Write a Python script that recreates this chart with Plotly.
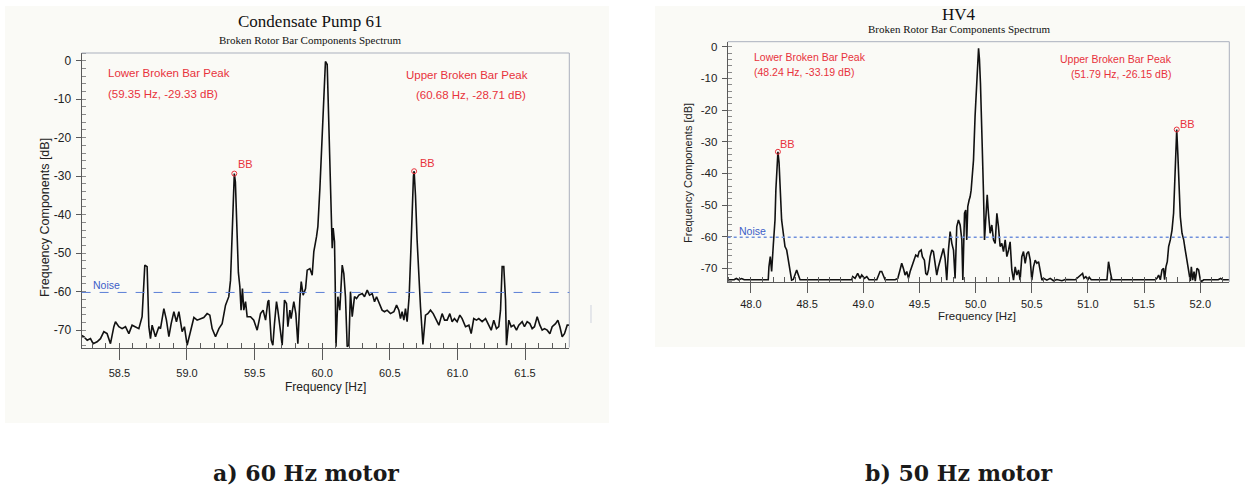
import plotly.graph_objects as go

# ---------------- DATA ----------------
# a) 60 Hz motor spectrum (frequency in Hz, amplitude in dB)
LEFT_FREQ = [
    58.217, 58.237, 58.262, 58.286, 58.306, 58.335, 58.360, 58.385, 58.409, 58.434,
    58.459, 58.471, 58.496, 58.520, 58.545, 58.570, 58.594, 58.619, 58.644, 58.668,
    58.688, 58.705, 58.718, 58.730, 58.742, 58.767, 58.792, 58.804, 58.829, 58.848,
    58.866, 58.883, 58.903, 58.922, 58.940, 58.964, 58.981, 59.001, 59.026, 59.051,
    59.075, 59.100, 59.124, 59.149, 59.169, 59.186, 59.211, 59.236, 59.260, 59.285,
    59.309, 59.322, 59.334, 59.343, 59.350, 59.358, 59.366, 59.373, 59.380, 59.391,
    59.400, 59.410, 59.420, 59.433, 59.445, 59.470, 59.494, 59.519, 59.544, 59.563,
    59.581, 59.598, 59.605, 59.623, 59.635, 59.647, 59.662, 59.672, 59.692, 59.704,
    59.721, 59.736, 59.746, 59.761, 59.770, 59.790, 59.805, 59.820, 59.835, 59.845,
    59.859, 59.877, 59.889, 59.909, 59.926, 59.938, 59.958, 59.968, 59.983, 59.999,
    60.012, 60.024, 60.037, 60.049, 60.062, 60.068, 60.074, 60.081, 60.091, 60.096,
    60.102, 60.116, 60.130, 60.148, 60.160, 60.172, 60.185, 60.197, 60.209, 60.222,
    60.239, 60.254, 60.271, 60.296, 60.313, 60.333, 60.350, 60.370, 60.387, 60.402,
    60.419, 60.443, 60.461, 60.480, 60.505, 60.530, 60.550, 60.567, 60.579, 60.591,
    60.604, 60.616, 60.628, 60.643, 60.655, 60.665, 60.675, 60.680, 60.690, 60.702,
    60.715, 60.727, 60.745, 60.764, 60.781, 60.801, 60.821, 60.838, 60.863, 60.887,
    60.905, 60.924, 60.944, 60.961, 60.978, 60.998, 61.018, 61.035, 61.060, 61.085,
    61.102, 61.121, 61.141, 61.158, 61.183, 61.208, 61.232, 61.250, 61.269, 61.289,
    61.306, 61.319, 61.331, 61.343, 61.356, 61.363, 61.380, 61.398, 61.417, 61.437,
    61.454, 61.479, 61.496, 61.516, 61.536, 61.553, 61.570, 61.590, 61.610, 61.627,
    61.644, 61.664, 61.684, 61.701, 61.726, 61.743, 61.758, 61.775, 61.792, 61.812,
    61.827,
]
LEFT_DB = [
    -71.3, -71.7, -72.6, -72.2, -73.5, -73.0, -72.2, -70.4, -70.9, -73.5,
    -69.1, -67.8, -69.1, -69.6, -69.1, -70.9, -68.7, -69.1, -69.6, -66.5,
    -53.1, -53.5, -69.1, -72.2, -68.7, -71.7, -69.1, -69.6, -64.4, -67.4,
    -71.7, -68.3, -65.2, -67.8, -65.2, -70.4, -69.1, -73.9, -70.0, -66.7,
    -67.4, -67.0, -66.7, -65.7, -66.1, -69.6, -71.7, -69.6, -68.3, -63.5,
    -61.3, -57.0, -44.0, -33.0, -29.33, -31.5, -42.0, -50.0, -55.0, -58.7,
    -64.8, -59.2, -64.8, -62.6, -66.5, -66.5, -67.4, -70.0, -65.7, -64.8,
    -67.4, -62.6, -62.2, -72.6, -73.9, -68.3, -62.6, -64.8, -70.9, -73.9,
    -62.2, -63.1, -69.1, -64.8, -67.0, -62.6, -65.7, -73.5, -61.8, -57.4,
    -60.9, -59.2, -54.4, -54.0, -55.7, -49.6, -45.7, -43.1, -33.1, -20.1,
    -9.7, -0.2, -1.0, -17.5, -35.7, -39.2, -48.7, -43.5, -47.0, -57.4,
    -74.3, -61.3, -64.8, -53.1, -55.3, -61.3, -74.3, -73.9, -60.0, -66.5,
    -61.3, -61.8, -60.9, -60.5, -61.3, -59.6, -60.9, -60.5, -62.6, -61.3,
    -62.6, -64.8, -65.2, -64.8, -65.7, -65.2, -63.5, -64.8, -67.0, -65.2,
    -67.4, -64.4, -67.8, -61.3, -50.0, -38.0, -30.0, -28.71, -35.0, -46.6,
    -57.0, -63.9, -73.7, -66.1, -65.7, -64.8, -65.7, -67.0, -68.7, -65.7,
    -67.4, -67.4, -65.7, -67.8, -67.0, -67.8, -66.1, -67.0, -69.1, -68.7,
    -70.9, -67.0, -67.4, -67.0, -67.8, -67.0, -68.7, -70.0, -67.4, -69.6,
    -69.1, -64.8, -53.5, -53.5, -62.2, -73.9, -67.4, -69.1, -68.7, -70.0,
    -68.7, -67.8, -69.1, -67.8, -68.3, -69.6, -69.1, -66.5, -68.7, -70.0,
    -69.6, -70.0, -70.9, -69.1, -68.3, -67.4, -69.1, -71.7, -70.9, -68.7,
    -68.7,
]

# b) 50 Hz motor spectrum
RIGHT_FREQ = [
    47.795, 47.850, 47.870, 47.890, 47.917, 47.940, 48.154, 48.160, 48.172, 48.184,
    48.199, 48.208, 48.214, 48.222, 48.232, 48.240, 48.250, 48.258, 48.273, 48.288,
    48.303, 48.318, 48.333, 48.347, 48.362, 48.377, 48.392, 48.407, 48.422, 48.437,
    48.451, 48.897, 48.906, 48.927, 48.950, 48.971, 48.986, 49.010, 49.031, 49.051,
    49.120, 49.134, 49.149, 49.164, 49.179, 49.194, 49.283, 49.307, 49.327, 49.342,
    49.357, 49.372, 49.387, 49.402, 49.417, 49.431, 49.446, 49.467, 49.485, 49.497,
    49.515, 49.526, 49.544, 49.556, 49.568, 49.580, 49.595, 49.610, 49.624, 49.639,
    49.654, 49.669, 49.684, 49.699, 49.713, 49.728, 49.743, 49.758, 49.773, 49.788,
    49.803, 49.817, 49.832, 49.847, 49.862, 49.877, 49.886, 49.901, 49.912, 49.921,
    49.930, 49.942, 49.951, 49.960, 49.972, 49.981, 49.995, 50.008, 50.018, 50.026,
    50.034, 50.043, 50.057, 50.064, 50.070, 50.079, 50.091, 50.103, 50.114, 50.129,
    50.144, 50.159, 50.174, 50.189, 50.203, 50.218, 50.233, 50.248, 50.263, 50.278,
    50.293, 50.307, 50.322, 50.337, 50.352, 50.367, 50.382, 50.396, 50.411, 50.426,
    50.441, 50.456, 50.471, 50.486, 50.500, 50.515, 50.530, 50.545, 50.560, 50.575,
    50.590, 50.604, 50.634, 50.664, 50.693, 50.723, 50.768, 50.797, 50.887, 50.952,
    50.964, 50.981, 50.999, 51.011, 51.029, 51.169, 51.183, 51.198, 51.213, 51.599,
    51.614, 51.629, 51.644, 51.659, 51.673, 51.682, 51.694, 51.706, 51.718, 51.733,
    51.748, 51.762, 51.775, 51.785, 51.790, 51.800, 51.810, 51.822, 51.837, 51.852,
    51.866, 51.881, 51.896, 51.911, 51.920, 51.932, 51.944, 51.955, 51.970, 51.985,
    52.000, 52.012, 52.030, 52.160, 52.180, 52.200, 52.257,
]
RIGHT_DB = [
    -73.6, -73.6, -73.2, -73.6, -73.2, -73.6, -73.6, -69.5, -66.3, -71.0,
    -62.6, -58.9, -54.7, -45.0, -36.0, -33.19, -36.5, -45.0, -54.7, -58.9,
    -63.1, -64.2, -67.4, -71.0, -73.7, -73.5, -72.1, -70.5, -72.1, -73.6,
    -73.6, -73.6, -72.6, -73.15, -71.6, -73.15, -72.1, -73.15, -72.6, -73.6,
    -73.6, -72.1, -71.0, -71.0, -72.1, -73.6, -73.6, -73.15, -70.5, -68.4,
    -70.0, -72.1, -71.0, -73.15, -71.0, -69.5, -67.4, -65.8, -66.3, -64.7,
    -64.2, -66.3, -67.4, -71.6, -72.1, -70.5, -66.3, -64.2, -64.7, -68.4,
    -72.1, -69.5, -67.4, -65.3, -63.7, -66.8, -73.7, -64.2, -58.4, -62.1,
    -64.2, -73.15, -56.8, -54.7, -56.3, -61.0, -73.7, -52.6, -51.6, -61.0,
    -50.5, -48.4, -47.4, -45.3, -39.0, -35.8, -22.0, -11.6, -4.0, -0.5,
    -4.0, -11.6, -29.3, -37.0, -46.3, -61.0, -53.7, -46.8, -52.6, -58.9,
    -56.3, -61.0, -62.1, -52.6, -56.8, -63.1, -62.1, -64.7, -61.0, -66.3,
    -64.2, -61.6, -70.5, -73.7, -69.5, -72.1, -70.5, -73.7, -66.3, -64.7,
    -68.4, -65.3, -64.7, -67.4, -73.7, -69.5, -67.4, -68.4, -67.9, -71.0,
    -73.7, -73.15, -73.7, -73.15, -73.9, -73.5, -73.9, -73.5, -73.6, -71.6,
    -73.15, -72.6, -73.6, -72.8, -73.6, -73.6, -67.9, -71.0, -73.6, -73.6,
    -73.15, -72.1, -73.6, -70.5, -70.0, -73.6, -69.5, -67.9, -63.1, -61.0,
    -57.9, -52.6, -40.0, -30.0, -26.15, -34.0, -45.0, -53.7, -58.9, -61.0,
    -64.2, -67.4, -71.0, -74.0, -69.5, -73.7, -71.0, -74.0, -70.0, -70.5,
    -73.7, -74.1, -73.6, -73.6, -73.2, -73.6, -73.6,
]

NOISE_DB = -60.2

LEFT_PEAKS_F = [59.35, 60.68]
LEFT_PEAKS_DB = [-29.33, -28.71]
RIGHT_PEAKS_F = [48.24, 51.79]
RIGHT_PEAKS_DB = [-33.19, -26.15]

LEFT_XTICKS = [58.5, 59.0, 59.5, 60.0, 60.5, 61.0, 61.5]
RIGHT_XTICKS = [48.0, 48.5, 49.0, 49.5, 50.0, 50.5, 51.0, 51.5, 52.0]
YTICKS = [0, -10, -20, -30, -40, -50, -60, -70]
YTICK_TEXT = ["0", "-10", "-20", "-30", "-40", "-50", "-60", "-70"]

LEFT_TITLE = "Condensate Pump 61"
RIGHT_TITLE = "HV4"
SUBTITLE = "Broken Rotor Bar Components Spectrum"
CAPTIONS = ["a) 60 Hz motor", "b) 50 Hz motor"]

# ---------------- LAYOUT HELPERS ----------------
W, H = 1248, 492
def px(x):
    return x / W
def py(y):
    return 1 - y / H

PANEL_BG = "#fafaf6"
RED = "#e8323c"
BLUE = "#3c5ec8"
AXIS = "#5a5a5a"
FRAME = "#aab0bd"
SANS = "Liberation Sans, Arial, sans-serif"
SERIF = "Liberation Serif, Times New Roman, serif"

fig = go.Figure()

fig.add_trace(go.Scatter(x=LEFT_FREQ, y=LEFT_DB, mode="lines",
                         line=dict(color="#111111", width=1.6),
                         xaxis="x", yaxis="y", showlegend=False, hoverinfo="skip"))
fig.add_trace(go.Scatter(x=RIGHT_FREQ, y=RIGHT_DB, mode="lines",
                         line=dict(color="#111111", width=1.6),
                         xaxis="x2", yaxis="y2", showlegend=False, hoverinfo="skip"))
fig.add_trace(go.Scatter(x=LEFT_PEAKS_F, y=LEFT_PEAKS_DB, mode="markers",
                         marker=dict(symbol="circle-open", size=5, color=RED, line=dict(width=1)),
                         xaxis="x", yaxis="y", showlegend=False, hoverinfo="skip"))
fig.add_trace(go.Scatter(x=RIGHT_PEAKS_F, y=RIGHT_PEAKS_DB, mode="markers",
                         marker=dict(symbol="circle-open", size=5, color=RED, line=dict(width=1)),
                         xaxis="x2", yaxis="y2", showlegend=False, hoverinfo="skip"))

def xaxis_cfg(domain, rng, ticks, ticklen, standoff):
    return dict(
        domain=domain, range=rng, showgrid=False, zeroline=False,
        showline=True, linecolor=AXIS, linewidth=1,
        tickmode="array", tickvals=ticks, ticktext=[f"{t:.1f}" for t in ticks],
        ticks="outside", ticklen=ticklen, tickwidth=1, tickcolor=AXIS,
        ticklabelstandoff=standoff,
        tickfont=dict(family=SANS, size=11, color="#222222"),
        minor=dict(tickmode="linear", tick0=ticks[0], dtick=0.1, ticks="inside",
                   ticklen=5, tickwidth=1, tickcolor=AXIS, showgrid=False),
        fixedrange=True,
    )

def yaxis_cfg(domain, rng, size):
    return dict(
        domain=domain, range=rng, showgrid=False, zeroline=False,
        showline=True, linecolor=AXIS, linewidth=1,
        tickmode="array", tickvals=YTICKS, ticktext=YTICK_TEXT,
        ticks="outside", ticklen=5, tickwidth=1, tickcolor=AXIS,
        ticklabelstandoff=2,
        tickfont=dict(family=SANS, size=size, color="#222222"),
        minor=dict(tickmode="linear", tick0=0, dtick=2, ticks="inside",
                   ticklen=4, tickwidth=1, tickcolor="#8a8a8a", showgrid=False),
        fixedrange=True,
    )

L_DOM_X = [px(81.6), px(569.3)]
L_DOM_Y = [py(347.5), py(53.0)]
R_DOM_X = [px(727.7), px(1229.3)]
R_DOM_Y = [py(282.0), py(41.7)]

xa = xaxis_cfg(L_DOM_X, [58.2205, 61.8276], LEFT_XTICKS, 11, 4)
xa["anchor"] = "y"
ya = yaxis_cfg(L_DOM_Y, [-74.5, 2.0], 12); ya["anchor"] = "x"
xa2 = xaxis_cfg(R_DOM_X, [47.793, 52.258], RIGHT_XTICKS, 10, 2)
xa2["anchor"] = "y2"
ya2 = yaxis_cfg(R_DOM_Y, [-74.3, 1.58], 11.5); ya2["anchor"] = "x2"

shapes = [
    # panel backgrounds
    dict(type="rect", xref="paper", yref="paper", x0=px(5), x1=px(609), y0=py(423), y1=py(6),
         fillcolor=PANEL_BG, line=dict(width=0), layer="below"),
    dict(type="rect", xref="paper", yref="paper", x0=px(655), x1=px(1245), y0=py(347), y1=py(6),
         fillcolor=PANEL_BG, line=dict(width=0), layer="below"),
    # top and right frame lines
    dict(type="line", xref="x domain", yref="y domain", x0=0, x1=1, y0=1, y1=1,
         line=dict(color=FRAME, width=1)),
    dict(type="line", xref="x domain", yref="y domain", x0=1, x1=1, y0=0, y1=1,
         line=dict(color=FRAME, width=1)),
    dict(type="line", xref="x2 domain", yref="y2 domain", x0=0, x1=1, y0=1, y1=1,
         line=dict(color=FRAME, width=1)),
    dict(type="line", xref="x2 domain", yref="y2 domain", x0=1, x1=1, y0=0, y1=1,
         line=dict(color=FRAME, width=1)),
    # noise lines
    dict(type="line", xref="x domain", yref="y", x0=0, x1=1, y0=NOISE_DB, y1=NOISE_DB,
         line=dict(color="#5b7fd6", width=1, dash="dash")),
    dict(type="line", xref="x2 domain", yref="y2", x0=0, x1=1, y0=NOISE_DB, y1=NOISE_DB,
         line=dict(color="#6f8fdc", width=1.5, dash="dot")),
    # small scan artifact line at right of left panel
    dict(type="line", xref="paper", yref="paper", x0=px(591), x1=px(591), y0=py(305), y1=py(323),
         line=dict(color="#cfd3de", width=1)),
]

ann = []
def text(x, y, s, size, color="#111111", family=SANS, xanchor="center", **kw):
    ann.append(dict(x=px(x), y=py(y), xref="paper", yref="paper", text=s, showarrow=False,
                    xanchor=xanchor, yanchor="middle",
                    font=dict(family=family, size=size, color=color), **kw))

# titles
text(310, 21.5, LEFT_TITLE, 17, family=SERIF)
text(310, 40.5, SUBTITLE, 11, family=SERIF)
text(958.5, 14.5, RIGHT_TITLE, 17, family=SERIF)
text(959.5, 29.5, SUBTITLE, 11, family=SERIF)

# peak text boxes
text(106, 73, "Lower Broken Bar Peak", 11.5, RED, xanchor="left")
text(106, 94, f"({LEFT_PEAKS_F[0]:.2f} Hz, {LEFT_PEAKS_DB[0]:.2f} dB)", 11.5, RED, xanchor="left")
text(404, 75, "Upper Broken Bar Peak", 11.5, RED, xanchor="left")
text(414, 95, f"({LEFT_PEAKS_F[1]:.2f} Hz, {LEFT_PEAKS_DB[1]:.2f} dB)", 11.5, RED, xanchor="left")
text(752, 57, "Lower Broken Bar Peak", 10.5, RED, xanchor="left")
text(752, 72.5, f"({RIGHT_PEAKS_F[0]:.2f} Hz, {RIGHT_PEAKS_DB[0]:.2f} dB)", 10.5, RED, xanchor="left")
text(1058, 58.5, "Upper Broken Bar Peak", 10.5, RED, xanchor="left")
text(1069, 73.5, f"({RIGHT_PEAKS_F[1]:.2f} Hz, {RIGHT_PEAKS_DB[1]:.2f} dB)", 10.5, RED, xanchor="left")

# BB labels next to the peak markers
for f, d, xs, ys, xr, yr in [
    (LEFT_PEAKS_F[0], LEFT_PEAKS_DB[0], 11, 10, "x", "y"),
    (LEFT_PEAKS_F[1], LEFT_PEAKS_DB[1], 13, 8, "x", "y"),
    (RIGHT_PEAKS_F[0], RIGHT_PEAKS_DB[0], 10, 8, "x2", "y2"),
    (RIGHT_PEAKS_F[1], RIGHT_PEAKS_DB[1], 11, 6, "x2", "y2"),
]:
    ann.append(dict(x=f, y=d, xref=xr, yref=yr, text="BB", showarrow=False,
                    xshift=xs, yshift=ys, xanchor="center", yanchor="middle",
                    font=dict(family=SANS, size=11, color=RED)))

# noise labels
text(91, 285, "Noise", 10.5, BLUE, xanchor="left")
text(737, 231, "Noise", 10.5, BLUE, xanchor="left")

# axis titles
text(45, 217, "Frequency Components [dB]", 12.5, "#222222", textangle=-90)
text(325, 387, "Frequency [Hz]", 12, "#222222")
text(688, 173, "Frequency Components [dB]", 11, "#222222", textangle=-90)
text(977, 316, "Frequency [Hz]", 11.5, "#222222")

# captions
text(306, 473, f"<b>{CAPTIONS[0]}</b>", 22, "#1a1a1a", family="DejaVu Serif, serif")
text(958, 473, f"<b>{CAPTIONS[1]}</b>", 22, "#1a1a1a", family="DejaVu Serif, serif")

fig.update_layout(
    width=W, height=H, autosize=False,
    margin=dict(l=0, r=0, t=0, b=0),
    paper_bgcolor="white", plot_bgcolor=PANEL_BG,
    xaxis=xa, yaxis=ya, xaxis2=xa2, yaxis2=ya2,
    shapes=shapes, annotations=ann, showlegend=False,
)

fig.write_html("out.html", config={"displayModeBar": False},
               post_script="document.body.style.margin='0';document.body.style.overflow='hidden';")
